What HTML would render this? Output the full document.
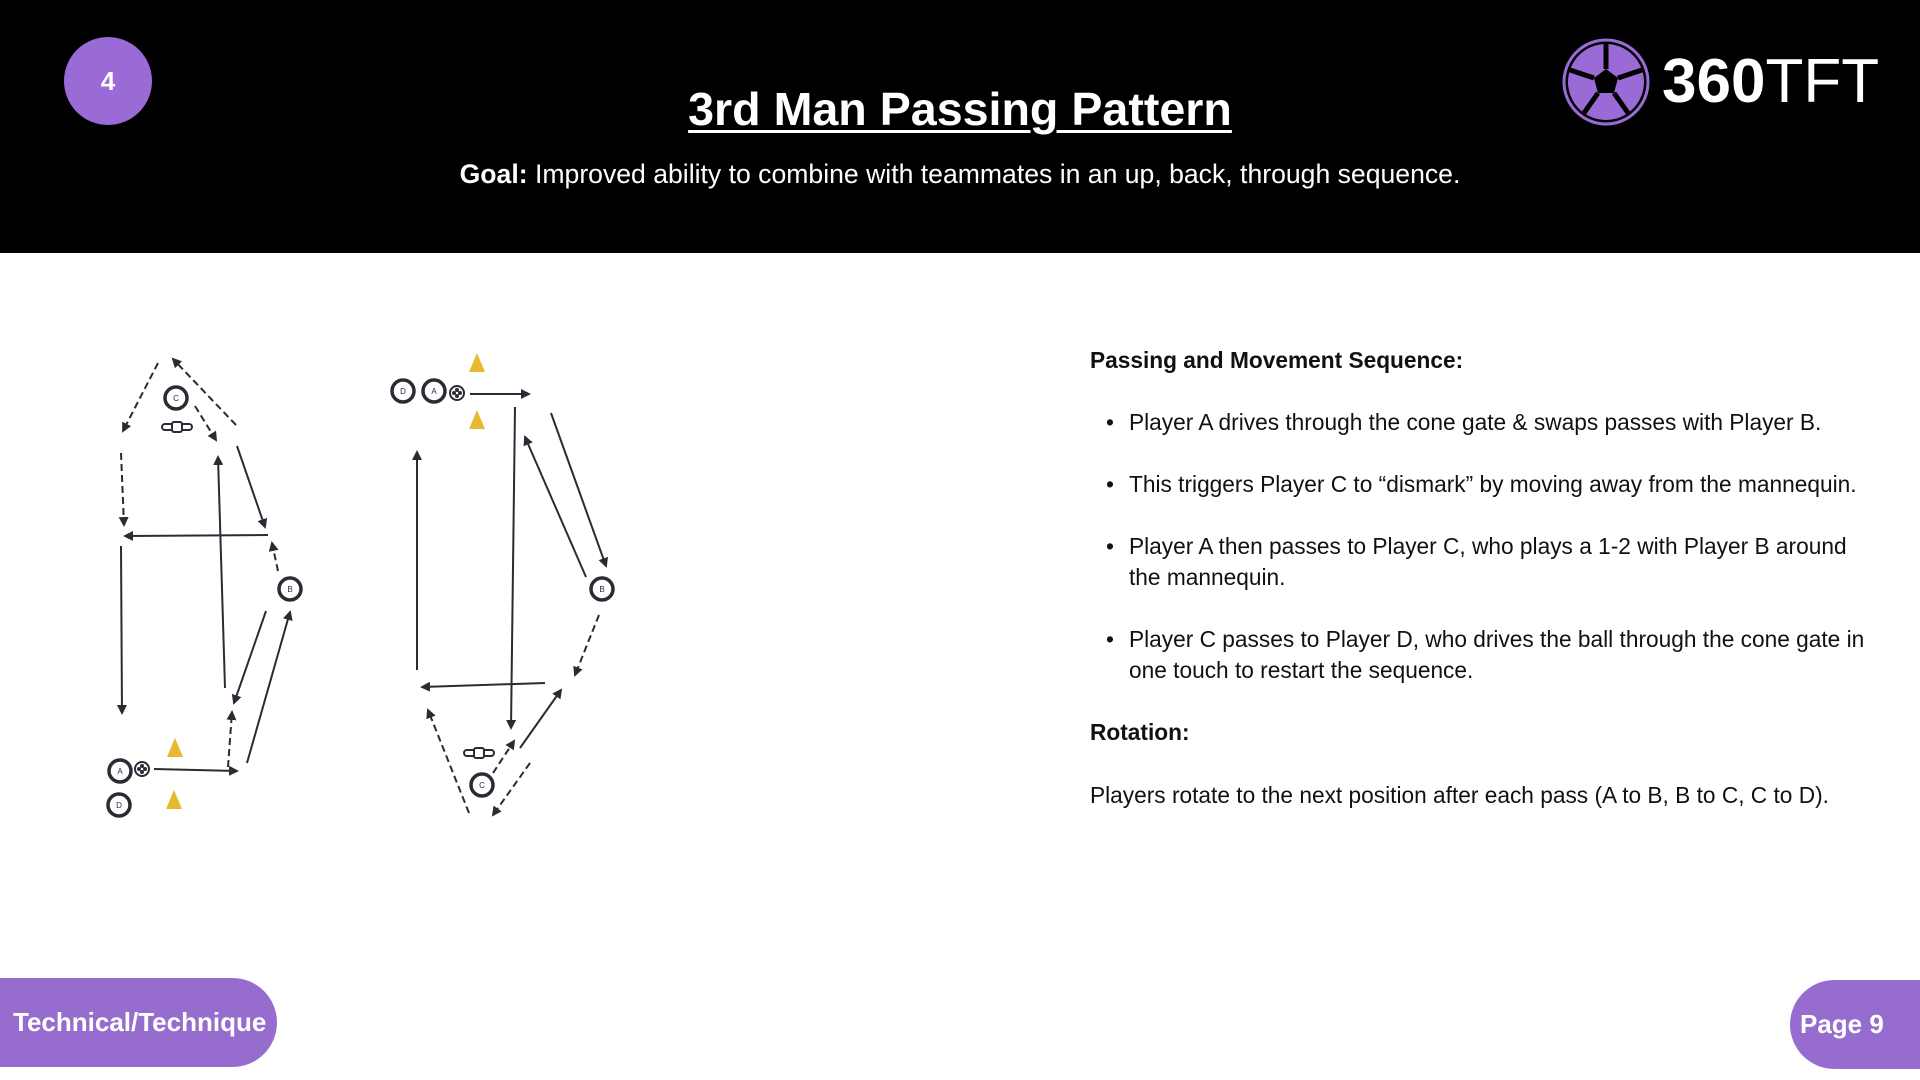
<!DOCTYPE html>
<html><head><meta charset="utf-8"><style>
body{margin:0;width:1920px;height:1080px;position:relative;background:#fff;font-family:"Liberation Sans",Arial,sans-serif;overflow:hidden}
.hdr{position:absolute;left:0;top:0;width:1920px;height:253px;background:#000}
.t{position:absolute;white-space:nowrap;line-height:30px}
.r{font-size:22.7px;color:#111}
</style></head><body>
<div class="hdr"></div>
<div style="position:absolute;left:64px;top:37px;width:88px;height:88px;border-radius:50%;background:#9a6bd6;color:#fff;font-weight:bold;font-size:26px;line-height:88px;text-align:center">4</div>
<div class="t" style="left:0;width:1920px;text-align:center;top:84px;line-height:50px;font-size:46.6px;font-weight:bold;color:#fff;text-decoration:underline;text-decoration-thickness:3px;text-underline-offset:5px">3rd Man Passing Pattern</div>
<div class="t" style="left:0;width:1920px;text-align:center;top:159px;font-size:26.6px;color:#fff"><b>Goal:</b> Improved ability to combine with teammates in an up, back, through sequence.</div>
<svg style="position:absolute;left:1560px;top:36px" width="92" height="92" viewBox="-46 -46 92 92">
<circle r="42" fill="none" stroke="#9a6bd6" stroke-width="3"/>
<circle r="38" fill="#9a6bd6"/>
<g fill="#000"><polygon points="0,-13 12,-4 8,11 -8,11 -12,-4"/>
<path d="M0,-13 L0,-38 M12,-4 L36,-12 M8,11 L22,31 M-8,11 L-22,31 M-12,-4 L-36,-12" stroke="#000" stroke-width="5"/></g>
</svg>
<div class="t" style="left:1662px;top:47px;line-height:70px;font-size:62px;color:#fff"><b>360</b>TFT</div>

<svg style="position:absolute;left:0;top:0" width="1920" height="1080">
<defs><marker id="a" markerWidth="10" markerHeight="10" refX="8" refY="5" orient="auto" markerUnits="userSpaceOnUse"><path d="M0,0 L10,5 L0,10 z" fill="#2b2b35"/></marker></defs>
<g stroke="#2b2b35" stroke-width="2" fill="none" marker-end="url(#a)">
<line x1="158" y1="363" x2="123" y2="431" stroke-dasharray="7,4"/>
<line x1="236" y1="425" x2="173" y2="359" stroke-dasharray="7,4"/>
<line x1="195" y1="406" x2="216" y2="440" stroke-dasharray="7,4"/>
<line x1="121" y1="453" x2="124" y2="525" stroke-dasharray="7,4"/>
<line x1="237" y1="446" x2="265" y2="527"/>
<line x1="268" y1="535" x2="125" y2="536"/>
<line x1="225" y1="688" x2="218" y2="457"/>
<line x1="121" y1="546" x2="122" y2="713"/>
<line x1="278" y1="571" x2="272" y2="543" stroke-dasharray="7,4"/>
<line x1="266" y1="611" x2="234" y2="703"/>
<line x1="247" y1="763" x2="290" y2="612"/>
<line x1="228" y1="767" x2="232" y2="712" stroke-dasharray="7,4"/>
<line x1="154" y1="769" x2="237" y2="771"/>
<line x1="470" y1="394" x2="529" y2="394"/>
<line x1="515" y1="407" x2="511" y2="728"/>
<line x1="417" y1="670" x2="417" y2="452"/>
<line x1="586" y1="577" x2="525" y2="437"/>
<line x1="551" y1="413" x2="606" y2="566"/>
<line x1="599" y1="615" x2="575" y2="675" stroke-dasharray="7,4"/>
<line x1="545" y1="683" x2="422" y2="687"/>
<line x1="469" y1="813" x2="428" y2="710" stroke-dasharray="7,4"/>
<line x1="493" y1="773" x2="514" y2="741" stroke-dasharray="7,4"/>
<line x1="520" y1="748" x2="561" y2="690"/>
<line x1="530" y1="763" x2="493" y2="815" stroke-dasharray="7,4"/>
</g>
<g stroke="#2b2b35" stroke-width="3.5" fill="#fff">
<circle cx="176" cy="398" r="11"/><circle cx="290" cy="589" r="11"/><circle cx="120" cy="771" r="11"/><circle cx="119" cy="805" r="11"/>
<circle cx="403" cy="391" r="11"/><circle cx="434" cy="391" r="11"/><circle cx="602" cy="589" r="11"/><circle cx="482" cy="785" r="11"/>
</g>
<g fill="#2b2b35" font-family="Liberation Sans" font-size="8" text-anchor="middle">
<text x="176" y="401">C</text><text x="290" y="592">B</text><text x="120" y="774">A</text><text x="119" y="808">D</text>
<text x="403" y="394">D</text><text x="434" y="394">A</text><text x="602" y="592">B</text><text x="482" y="788">C</text>
</g>
<g stroke="#2b2b35" stroke-width="2" fill="#fff">
<circle cx="142" cy="769" r="7"/><circle cx="457" cy="393" r="7"/>
<rect x="162" y="424" width="30" height="6" rx="3"/><rect x="172" y="422" width="10" height="10" rx="2"/>
<rect x="464" y="750" width="30" height="6" rx="3"/><rect x="474" y="748" width="10" height="10" rx="2"/>
</g>
<g fill="#2b2b35"><circle cx="142" cy="766" r="2"/><circle cx="142" cy="772" r="2"/><circle cx="139" cy="769" r="2"/><circle cx="145" cy="769" r="2"/>
<circle cx="457" cy="390" r="2"/><circle cx="457" cy="396" r="2"/><circle cx="454" cy="393" r="2"/><circle cx="460" cy="393" r="2"/></g>
<g fill="#e6b92e">
<polygon points="175,738 183,757 167,757"/><polygon points="174,790 182,809 166,809"/>
<polygon points="477,353 485,372 469,372"/><polygon points="477,410 485,429 469,429"/>
</g>
</svg>

<div class="t r" style="left:1090px;top:345px;font-weight:bold">Passing and Movement Sequence:</div>
<div class="t r" style="left:1106px;top:407px">•</div>
<div class="t r" style="left:1129px;top:407px">Player A drives through the cone gate &amp; swaps passes with Player B.</div>
<div class="t r" style="left:1106px;top:469px">•</div>
<div class="t r" style="left:1129px;top:469px">This triggers Player C to “dismark” by moving away from the mannequin.</div>
<div class="t r" style="left:1106px;top:531px">•</div>
<div class="t r" style="left:1129px;top:531px">Player A then passes to Player C, who plays a 1-2 with Player B around</div>
<div class="t r" style="left:1129px;top:562px">the mannequin.</div>
<div class="t r" style="left:1106px;top:624px">•</div>
<div class="t r" style="left:1129px;top:624px">Player C passes to Player D, who drives the ball through the cone gate in</div>
<div class="t r" style="left:1129px;top:655px">one touch to restart the sequence.</div>
<div class="t r" style="left:1090px;top:717px;font-weight:bold">Rotation:</div>
<div class="t r" style="left:1090px;top:780px">Players rotate to the next position after each pass (A to B, B to C, C to D).</div>

<div style="position:absolute;left:0;top:978px;width:277px;height:89px;background:#966dce;border-radius:0 45px 45px 0"></div>
<div class="t" style="left:13px;top:1007px;font-size:26px;font-weight:bold;color:#fff">Technical/Technique</div>
<div style="position:absolute;left:1790px;top:980px;width:140px;height:89px;background:#966dce;border-radius:45px 0 0 45px"></div>
<div class="t" style="left:1800px;top:1009px;font-size:26px;font-weight:bold;color:#fff">Page 9</div>
</body></html>
